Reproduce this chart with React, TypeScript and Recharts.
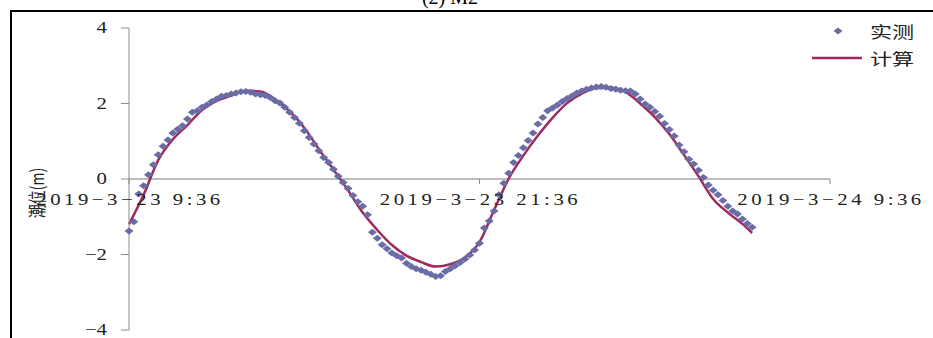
import { ComposedChart, Line, Scatter, XAxis, YAxis, ReferenceLine } from "recharts"

// 实测: tide readings every 10 min from 2019-3-23 9:36 (m)
const obsLevel = [
    -1.38, -1.13, -0.40, -0.18, 0.11, 0.38, 0.64, 0.87, 1.03, 1.22,
    1.32, 1.41, 1.59, 1.77, 1.81, 1.90, 1.96, 2.05, 2.12, 2.19,
    2.21, 2.25, 2.28, 2.31, 2.32, 2.30, 2.25, 2.23, 2.21, 2.16,
    2.07, 2.01, 1.90, 1.77, 1.63, 1.48, 1.28, 1.10, 0.93, 0.75,
    0.57, 0.44, 0.26, 0.07, -0.09, -0.25, -0.44, -0.60, -0.72, -0.95,
    -1.41, -1.57, -1.74, -1.85, -1.96, -2.03, -2.09, -2.23, -2.32, -2.38,
    -2.42, -2.47, -2.52, -2.58, -2.56, -2.45, -2.38, -2.30, -2.21, -2.12,
    -2.01, -1.88, -1.70, -1.30, -1.11, -0.85, -0.42, -0.11, 0.15, 0.44,
    0.62, 0.83, 1.02, 1.22, 1.46, 1.63, 1.81, 1.88, 1.96, 2.05,
    2.13, 2.20, 2.28, 2.33, 2.38, 2.41, 2.44, 2.45, 2.43, 2.40,
    2.38, 2.35, 2.34, 2.33, 2.25, 2.12, 1.99, 1.90, 1.79, 1.66,
    1.47, 1.31, 1.14, 0.90, 0.72, 0.52, 0.40, 0.23, 0.04, -0.16,
    -0.30, -0.42, -0.57, -0.72, -0.85, -0.93, -1.06, -1.18, -1.28,
]
const obsTime = obsLevel.map((_, i) => i * 10) // minutes after 9:36

// 计算: computed tide (minutes after 9:36, m)
const calcTime = [
    0, 30, 60, 90, 120, 150, 180, 210, 240, 270, 300, 330, 360, 390, 420,
    450, 480, 510, 540, 570, 600, 630, 660, 690, 720, 750, 780, 810, 840,
    870, 900, 930, 960, 990, 1020, 1050, 1080, 1110, 1140, 1170, 1200,
    1230, 1260, 1280,
]
const calcLevel = [
    -1.20, -0.42, 0.50, 1.05, 1.43, 1.83, 2.07, 2.21, 2.34, 2.32, 2.11,
    1.79, 1.36, 0.79, 0.25, -0.30, -0.89, -1.35, -1.75, -2.03, -2.20,
    -2.32, -2.26, -2.08, -1.67, -0.82, 0.01, 0.62, 1.15, 1.62, 2.01,
    2.26, 2.41, 2.42, 2.31, 2.00, 1.64, 1.19, 0.64, 0.07, -0.53, -0.89,
    -1.19, -1.43,
]

const xTicks = [0, 720, 1440]
const xTickLabels = ["2019−3−23  9:36", "2019−3−23  21:36", "2019−3−24  9:36"]
const yTicks = [-4, -2, 0, 2, 4]

const obsData = obsTime.map((t, i) => ({ t, level: obsLevel[i] }))
const calcData = calcTime.map((t, i) => ({ t, level: calcLevel[i] }))

const OBS_COLOR = "#6a6ca6"
const CALC_COLOR = "#9e2a5e"
const AXIS_GREY = "#8c8c8c"
const SERIF = "'Liberation Serif', 'DejaVu Serif', serif"
const CJK = "'Noto Sans CJK SC', sans-serif"

const CHART_H = 360
const MARGIN = { top: 28, right: 103, bottom: 10, left: 0 }
const X_AXIS_H = 20
const PLOT_H = CHART_H - MARGIN.top - MARGIN.bottom - X_AXIS_H
// the date labels sit under the zero line, not under the plot
const ZERO_Y = MARGIN.top + PLOT_H / 2

const Diamond = (props: any) => {
    const { cx, cy } = props
    if (cx == null || cy == null) return null
    return (
        <polygon
            points={`${cx - 4.5},${cy} ${cx},${cy - 3.5} ${cx + 4.5},${cy} ${cx},${cy + 3.5}`}
            fill={OBS_COLOR}
        />
    )
}

const DateTick = (props: any) => {
    const { x, payload } = props
    const label = xTickLabels[xTicks.indexOf(payload.value)]
    return (
        <g>
            <line x1={x} y1={ZERO_Y} x2={x} y2={ZERO_Y + 5} stroke={AXIS_GREY} />
            <text
                transform={`translate(${x + 1},${ZERO_Y + 26}) scale(1.3,1)`}
                textAnchor="middle"
                fontFamily={SERIF}
                fontSize={16}
                letterSpacing={2.7}
                fill="#222"
            >
                {label}
            </text>
        </g>
    )
}

const LevelTick = (props: any) => {
    const { x, y, payload } = props
    const v = payload.value
    const label = v < 0 ? `−${Math.abs(v)}` : `${v}`
    return (
        <text
            transform={`translate(${x},${y + 5}) scale(1.3,1)`}
            textAnchor="end"
            fontFamily={SERIF}
            fontSize={16}
            fill="#222"
        >
            {label}
        </text>
    )
}

const cjkText = { fontFamily: CJK, fontSize: 16, lineHeight: "16px", color: "#222", transform: "scaleX(1.38)", transformOrigin: "left center", whiteSpace: "nowrap" as const }

export default function App() {
    return (
        <div style={{ position: "absolute", left: 0, top: 0, width: 933, height: 338, overflow: "hidden", background: "#fff" }}>
            <div style={{ position: "absolute", left: 0, top: -13, width: 900, textAlign: "center", fontFamily: SERIF, fontSize: 20, lineHeight: "20px" }}>
                (2) M2
            </div>
            <div style={{ position: "absolute", left: 10, top: 10, width: 960, height: 400, border: "2px solid #000" }} />

            <div style={{ position: "absolute", left: 0, top: 0 }}>
                <ComposedChart width={933} height={CHART_H} margin={MARGIN}>
                    <XAxis
                        dataKey="t"
                        type="number"
                        domain={[0, 1440]}
                        ticks={xTicks}
                        interval={0}
                        height={X_AXIS_H}
                        axisLine={false}
                        tickLine={false}
                        tick={<DateTick />}
                    />
                    <YAxis
                        type="number"
                        domain={[-4, 4]}
                        ticks={yTicks}
                        interval={0}
                        width={129}
                        stroke={AXIS_GREY}
                        tickSize={8}
                        tickMargin={14}
                        tick={<LevelTick />}
                    />
                    <ReferenceLine y={0} stroke="#a9a9a9" strokeWidth={1.5} />
                    <Scatter
                        data={obsData}
                        dataKey="level"
                        shape={<Diamond />}
                        isAnimationActive={false}
                    />
                    <Line
                        data={calcData}
                        dataKey="level"
                        type="monotone"
                        stroke={CALC_COLOR}
                        strokeWidth={2.5}
                        dot={false}
                        activeDot={false}
                        isAnimationActive={false}
                    />
                </ComposedChart>
            </div>

            {/* legend */}
            <svg style={{ position: "absolute", left: 800, top: 20 }} width={70} height={50}>
                <polygon points="33.5,11 38,7.5 42.5,11 38,14.5" fill={OBS_COLOR} />
                <line x1={12} y1={38} x2={62} y2={38} stroke={CALC_COLOR} strokeWidth={2.5} />
            </svg>
            <div style={{ position: "absolute", left: 870, top: 23, ...cjkText }}>实测</div>
            <div style={{ position: "absolute", left: 870, top: 50, ...cjkText }}>计算</div>

            {/* y axis title */}
            <div
                style={{
                    position: "absolute",
                    left: 36,
                    top: 193,
                    fontFamily: CJK,
                    fontSize: 14,
                    lineHeight: "14px",
                    color: "#222",
                    whiteSpace: "nowrap",
                    transform: "translate(-50%, -50%) rotate(-90deg) scaleY(1.3)",
                }}
            >
                潮位(m)
            </div>
        </div>
    )
}
